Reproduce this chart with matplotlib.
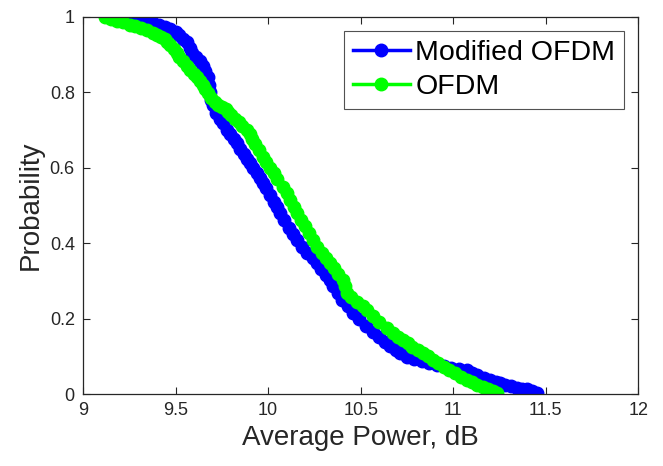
import matplotlib.pyplot as plt

# Modified OFDM (blue) readings
x_mod = [9.19, 9.22, 9.25, 9.28, 9.31, 9.345, 9.38, 9.41, 9.44, 9.47,
         9.50, 9.52, 9.54, 9.56, 9.575, 9.59, 9.61, 9.63, 9.645, 9.66,
         9.672, 9.68, 9.685, 9.69, 9.70, 9.72, 9.74, 9.756, 9.775, 9.795,
         9.815, 9.831, 9.85, 9.87, 9.885, 9.902, 9.92, 9.94, 9.955, 9.97,
         9.99, 10.01, 10.03, 10.047, 10.064, 10.085, 10.11, 10.135, 10.156, 10.185,
         10.21, 10.24, 10.264, 10.285, 10.31, 10.334, 10.35, 10.375, 10.40, 10.43,
         10.458, 10.49, 10.53, 10.565, 10.60, 10.63, 10.66, 10.69, 10.712, 10.75,
         10.79, 10.83, 10.87, 10.91, 10.95, 10.99, 11.03, 11.074, 11.10, 11.13,
         11.165, 11.20, 11.23, 11.253, 11.28, 11.31, 11.345, 11.37, 11.40, 11.425,
         11.453]
y_mod = [1.0, 0.998, 0.996, 0.994, 0.991, 0.988, 0.984, 0.979, 0.974, 0.968,
         0.96, 0.952, 0.942, 0.932, 0.918, 0.905, 0.893, 0.882, 0.87, 0.855,
         0.84, 0.82, 0.80, 0.78, 0.765, 0.745, 0.73, 0.719, 0.70, 0.688,
         0.676, 0.665, 0.65, 0.635, 0.624, 0.613, 0.60, 0.585, 0.572, 0.56,
         0.545, 0.528, 0.51, 0.495, 0.48, 0.46, 0.44, 0.424, 0.408, 0.39,
         0.375, 0.36, 0.347, 0.332, 0.316, 0.302, 0.286, 0.268, 0.25, 0.232,
         0.215, 0.198, 0.18, 0.165, 0.151, 0.138, 0.126, 0.116, 0.109, 0.099,
         0.092, 0.087, 0.082, 0.078, 0.074, 0.07, 0.067, 0.063, 0.056, 0.05,
         0.043, 0.037, 0.033, 0.03, 0.025, 0.021, 0.016, 0.014, 0.012, 0.009,
         0.003]

# OFDM (green) readings
x_ofdm = [9.12, 9.15, 9.18, 9.215, 9.253, 9.28, 9.31, 9.345, 9.377, 9.40,
          9.42, 9.44, 9.453, 9.47, 9.49, 9.505, 9.52, 9.54, 9.56, 9.58,
          9.60, 9.615, 9.63, 9.645, 9.66, 9.675, 9.69, 9.71, 9.73, 9.75,
          9.77, 9.785, 9.80, 9.82, 9.84, 9.86, 9.885, 9.90, 9.915, 9.93,
          9.95, 9.972, 9.99, 10.01, 10.03, 10.05, 10.08, 10.10, 10.12, 10.14,
          10.156, 10.18, 10.20, 10.22, 10.243, 10.265, 10.29, 10.31, 10.334, 10.355,
          10.38, 10.404, 10.415, 10.426, 10.45, 10.48, 10.51, 10.534, 10.565, 10.60,
          10.64, 10.675, 10.70, 10.729, 10.755, 10.78, 10.81, 10.837, 10.865, 10.89,
          10.92, 10.95, 10.98, 11.01, 11.04, 11.075, 11.10, 11.13, 11.16, 11.19,
          11.215, 11.237]
y_ofdm = [1.0, 0.995, 0.99, 0.985, 0.979, 0.975, 0.97, 0.964, 0.958, 0.953,
          0.947, 0.94, 0.933, 0.924, 0.914, 0.904, 0.894, 0.882, 0.87, 0.86,
          0.849, 0.84, 0.83, 0.82, 0.808, 0.797, 0.786, 0.775, 0.766, 0.76,
          0.755, 0.748, 0.74, 0.73, 0.72, 0.71, 0.70, 0.688, 0.676, 0.664,
          0.648, 0.629, 0.615, 0.60, 0.585, 0.57, 0.549, 0.532, 0.515, 0.497,
          0.48, 0.462, 0.445, 0.427, 0.408, 0.39, 0.375, 0.36, 0.347, 0.333,
          0.318, 0.302, 0.285, 0.268, 0.256, 0.245, 0.234, 0.223, 0.207, 0.19,
          0.175, 0.162, 0.152, 0.143, 0.134, 0.125, 0.117, 0.109, 0.10, 0.09,
          0.081, 0.072, 0.063, 0.055, 0.046, 0.037, 0.031, 0.025, 0.018, 0.012,
          0.007, 0.002]

plt.rcParams['font.family'] = ['Liberation Sans', 'DejaVu Sans']
axis_col = '#262626'

fig = plt.figure(figsize=(6.63, 4.66), dpi=100)
ax = fig.add_axes([0.1255, 0.1545, 0.837, 0.8095])

ax.plot(x_mod, y_mod, '-o', color='#0000ff', lw=2.5, ms=9, label='Modified OFDM')
ax.plot(x_ofdm, y_ofdm, '-o', color='#00ff00', lw=2.5, ms=9, label='OFDM')

ax.set_xlim(9, 12)
ax.set_ylim(0, 1)
ax.set_xticks([9, 9.5, 10, 10.5, 11, 11.5, 12])
ax.set_xticklabels(['9', '9.5', '10', '10.5', '11', '11.5', '12'])
ax.set_yticks([0, 0.2, 0.4, 0.6, 0.8, 1])
ax.set_yticklabels(['0', '0.2', '0.4', '0.6', '0.8', '1'])
ax.tick_params(direction='in', top=True, right=True, length=5, width=0.8,
               colors=axis_col, labelsize=13, pad=6)
for s in ax.spines.values():
    s.set_color(axis_col)
    s.set_linewidth(0.9)

ax.set_xlabel('Average Power, dB', fontsize=20, color=axis_col)
ax.set_ylabel('Probability', fontsize=20, color=axis_col)

leg = ax.legend(loc='upper right', fontsize=20.5, frameon=True, fancybox=False,
                edgecolor=axis_col, handlelength=2.0, borderpad=0.3,
                labelspacing=0.3, handletextpad=0.2, borderaxespad=0.5)
leg.get_frame().set_linewidth(0.8)

plt.savefig('out.png', dpi=100)
